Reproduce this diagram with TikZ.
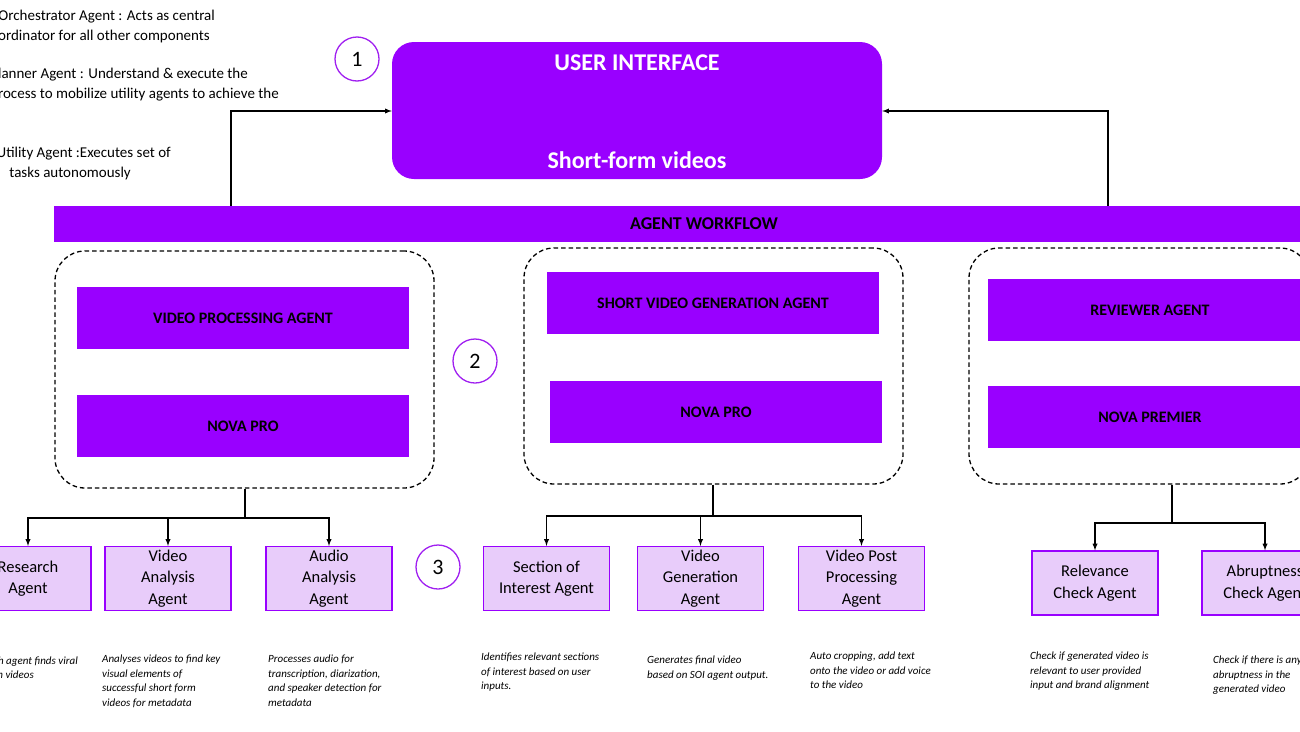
\documentclass[tikz,border=0pt]{standalone}
\usepackage{fontspec}
\setmainfont{Carlito}
\usetikzlibrary{arrows,positioning}
\definecolor{vio}{HTML}{9900FF}
\definecolor{lilac}{HTML}{E8CCFA}
\definecolor{ring}{HTML}{A020F0}
\tikzset{
  bigbox/.style={fill=vio,draw=none,inner sep=0pt,font=\fontsize{16}{18}\selectfont\bfseries},
  subbox/.style={fill=lilac,draw=vio,line width=1.2pt,minimum width=126pt,minimum height=64pt,align=center,font=\fontsize{16.5}{21.5}\selectfont},
  group/.style={draw,dash pattern=on 4.5pt off 3pt,line width=1.3pt,rounded corners=30pt},
  stage/.style={circle,draw=ring,line width=1.3pt,minimum size=44pt,font=\fontsize{22}{24}\selectfont},
  note/.style={anchor=north west,align=left,inner sep=0pt,font=\fontsize{11}{14.5}\selectfont\itshape},
  legend/.style={anchor=base east,inner sep=0pt,font=\fontsize{15}{18}\selectfont},
  feed/.style={line width=1.3pt,-latex},
}
\begin{document}
\begin{tikzpicture}[x=1pt,y=-1pt]
\useasboundingbox (0,0) rectangle (1300,731);
\clip (0,0) rectangle (1300,731);

% legend, top left
\node[legend] at (215,20) {Orchestrator Agent : Acts as central};
\node[legend] at (210,40) {coordinator for all other components};
\node[legend] at (248,78) {Planner Agent : Understand \& execute the};
\node[legend] at (279,98) {process to mobilize utility agents to achieve the};
\node[legend] at (171,157) {Utility Agent :Executes set of};
\node[legend] at (131,177) {tasks autonomously};

% user interface
\node[fill=vio,rounded corners=22pt,minimum width=490pt,minimum height=137pt] (ui) at (637,110.5) {};
\node[text=white,font=\fontsize{24}{26}\selectfont\bfseries] (uititle) at (637,63) {USER INTERFACE};
\node[text=white,font=\fontsize{24}{26}\selectfont\bfseries] (uisub) at (637,160) {Short-form videos};
\node[stage] (one) at (357,59) {1};

% agent workflow bar
\node[bigbox,minimum width=1280pt,minimum height=36pt,anchor=west] (bar) at (54,224) {};
\node[font=\fontsize{18}{20}\selectfont\bfseries] (bartext) at (704,224) {AGENT WORKFLOW};
\coordinate (upL) at (231,111);
\coordinate (upR) at (1108,111);
\draw[feed] (bar.north -| upL) -- (upL) -- (ui.west |- upL);
\draw[feed] (bar.north -| upR) -- (upR) -- (ui.east |- upR);

% groups
\node[group,minimum width=379pt,minimum height=237pt] (grpA) at (244.5,369.5) {};
\node[group,minimum width=379pt,minimum height=236pt] (grpB) at (713.5,366) {};
\node[group,minimum width=341pt,minimum height=236pt] (grpC) at (1139.5,366) {};

\node[bigbox,minimum width=332pt,minimum height=62pt] (vpa) at (243,318) {VIDEO PROCESSING AGENT};
\node[bigbox,minimum width=332pt,minimum height=62pt] (novaA) at (243,426) {NOVA PRO};
\node[bigbox,minimum width=332pt,minimum height=62pt] (svga) at (713,303) {SHORT VIDEO GENERATION AGENT};
\node[bigbox,minimum width=332pt,minimum height=62pt] (novaB) at (716,412) {NOVA PRO};
\node[bigbox,minimum width=325pt,minimum height=62pt] (rev) at (1150,310) {REVIEWER AGENT};
\node[bigbox,minimum width=325pt,minimum height=62pt] (novaC) at (1150,417) {NOVA PREMIER};
\node[stage] (two) at (475,361) {2};
\node[stage] (three) at (438,567) {3};

% utility agents
\node[subbox] (research) at (28,578.5) {Research\\Agent};
\node[subbox] (analysis) at (168,578.5) {Video\\Analysis\\Agent};
\node[subbox] (audio) at (329,578.5) {Audio\\Analysis\\Agent};
\node[subbox] (soi) at (546.5,578.5) {Section of\\Interest Agent};
\node[subbox] (vgen) at (700.5,578.5) {Video\\Generation\\Agent};
\node[subbox] (post) at (861.5,578.5) {Video Post\\Processing\\Agent};
\node[subbox] (relev) at (1095,583) {Relevance\\Check Agent};
\node[subbox] (abrupt) at (1265,583) {Abruptness\\Check Agent};

% tree connectors
\coordinate (forkA) at (245,518);
\coordinate (forkB) at (713,516);
\coordinate (forkC) at (1172,523);
\draw[line width=1.3pt] (grpA.south -| forkA) -- (forkA);
\draw[line width=1.3pt] (grpB.south -| forkB) -- (forkB);
\draw[line width=1.3pt] (grpC.south -| forkC) -- (forkC);
\foreach \a/\f in {research/forkA,analysis/forkA,audio/forkA,soi/forkB,vgen/forkB,post/forkB,relev/forkC,abrupt/forkC}
  \draw[feed] (\f) -| (\a.north);

% notes
\node[note,anchor=base east] at (78,664) {Research agent finds viral};
\node[note,anchor=base east] at (34,678) {short form videos};
\node[note] at (102,655) {Analyses videos to find key\\visual elements of\\successful short form\\videos for metadata};
\node[note] at (268,655) {Processes audio for\\transcription, diarization,\\and speaker detection for\\metadata};
\node[note] at (481,653) {Identifies relevant sections\\of interest based on user\\inputs.};
\node[note] at (647,656) {Generates final video\\based on SOI agent output.};
\node[note] at (810,652) {Auto cropping, add text\\onto the video or add voice\\to the video};
\node[note] at (1030,652) {Check if generated video is\\relevant to user provided\\input and brand alignment};
\node[note] at (1213,656) {Check if there is any\\abruptness in the\\generated video};
\end{tikzpicture}
\end{document}
